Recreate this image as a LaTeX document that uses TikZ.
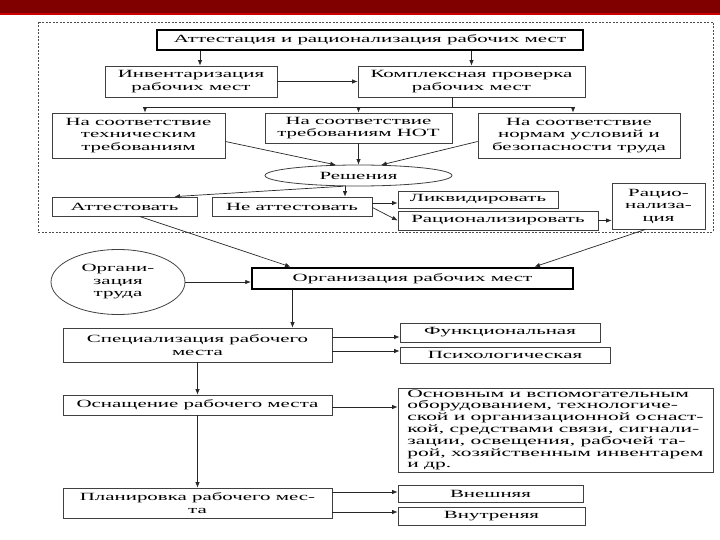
\documentclass[tikz,border=0pt]{standalone}
\usepackage{fontspec}
\setmainfont{Liberation Serif}[FakeStretch=1.9]
\usetikzlibrary{arrows.meta,shapes.geometric}

\begin{document}
\begin{tikzpicture}[x=1pt,y=-1pt]

    \tikzset{
      box/.style={
        draw=black!75,
        line width=0.8pt,
        fill=white,
        align=center,
        inner sep=0pt,
        font=\fontsize{11}{12.5}\selectfont,
      },
      mainbox/.style={box, draw=black, line width=2.4pt},
      oval/.style={box, ellipse},
      arr/.style={-{Latex[length=5.5pt,width=4.5pt]}, draw=black!85, line width=0.7pt},
      ln/.style={draw=black!85, line width=0.7pt},
    }
    \useasboundingbox (0,0) rectangle (720,540);
    \fill[red!50!black] (0,0) rectangle (720,13);
    \fill[red!80!black] (0,13) rectangle (720,15);
    \draw[black!70, line width=0.8pt, dash pattern=on 2pt off 1.5pt] (38,22) rectangle (713,232);

    % attestation block
    \node[mainbox, minimum width=426pt, minimum height=20pt] (title) at (370,40) {Аттестация и рационализация рабочих мест};
    \node[box, minimum width=172pt, minimum height=31pt] (inv) at (191,81.5) {Инвентаризация\\рабочих мест};
    \node[box, minimum width=227pt, minimum height=31pt] (komp) at (471.5,81.5) {Комплексная проверка\\рабочих мест};
    \node[box, minimum width=173pt, minimum height=45pt] (tech) at (138.5,135.5) {На соответствие\\техническим\\требованиям};
    \node[box, minimum width=187pt, minimum height=30pt] (not) at (358.5,128) {На соответствие\\требованиям НОТ};
    \node[box, minimum width=202pt, minimum height=45pt] (norm) at (579,135.5) {На соответствие\\нормам условий и\\безопасности труда};
    \node[oval, minimum width=187pt, minimum height=21pt] (resh) at (358.5,175.5) {Решения};
    \node[box, minimum width=145pt, minimum height=19pt] (att) at (124.5,206.5) {Аттестовать};
    \node[box, minimum width=160pt, minimum height=19pt] (neatt) at (292,206.5) {Не аттестовать};
    \node[box, minimum width=160pt, minimum height=17pt] (likv) at (478,199.5) {Ликвидировать};
    \node[box, minimum width=200pt, minimum height=19pt] (rac) at (498,220.5) {Рационализировать};
    \node[box, minimum width=93pt, minimum height=46pt] (racz) at (658.5,206) {Рацио-\\нализа-\\ция};

    \coordinate (busL) at (145,107);
    \coordinate (busR) at (573,107);
    \draw[arr] ([xshift=9pt]inv.north |- title.south) -- ([xshift=9pt]inv.north);
    \draw[arr] (komp.north |- title.south) -- (komp.north);
    \draw[arr] (inv.east) -- (komp.west);
    \draw[ln] ([xshift=-19.5pt]komp.south) -- ([xshift=-19.5pt]komp.south |- busL);
    \draw[ln] (busL) -- (busR);
    \draw[arr] (busL) -- (busL |- tech.north);
    \draw[arr] (busL -| not.north) -- (not.north);
    \draw[arr] (busR) -- (busR |- norm.north);
    \draw[arr] ([yshift=-6pt]tech.east) -- (resh.155);
    \draw[arr] (not.south) -- (resh.north);
    \draw[arr] ([yshift=-6pt]norm.west) -- (resh.25);
    \draw[arr] (resh.215) -- ([xshift=50pt]att.north);
    \draw[arr] ([xshift=53pt]neatt.north |- resh.south) -- ([xshift=53pt]neatt.north);
    \draw[arr] ([yshift=3.5pt]neatt.east) -- ([yshift=-3.5pt]likv.west);
    \draw[arr] ([yshift=-1pt]neatt.east) -- (rac.west);
    \draw[arr] (rac.east) -- (rac.east -| racz.west);

    % organisation block
    \node[mainbox, minimum width=321pt, minimum height=21pt] (org) at (412.5,278.5) {Организация рабочих мест};
    \node[oval, minimum width=134pt, minimum height=65pt] (trud) at (118,282) {Органи-\\зация\\труда};
    \node[box, minimum width=269pt, minimum height=34pt] (spec) at (197.5,345) {Специализация рабочего\\места};
    \node[box, minimum width=200pt, minimum height=19pt] (funk) at (500,332.5) {Функциональная};
    \node[box, minimum width=210pt, minimum height=16pt] (psych) at (505,355) {Психологическая};
    \node[box, minimum width=269pt, minimum height=20pt] (osn) at (197.5,405) {Оснащение рабочего места};
    \node[box, minimum width=315pt, minimum height=84pt, align=left, font=\fontsize{11.3}{11.8}\selectfont] (obor) at (555.5,430) {Основным и вспомогательным\\оборудованием, технологиче-\\ской и организационной оснаст-\\кой, средствами связи, сигнали-\\зации, освещения, рабочей та-\\рой, хозяйственным инвентарем\\и др.};
    \node[box, minimum width=269pt, minimum height=30pt] (plan) at (197.5,503) {Планировка рабочего мес-\\та};
    \node[box, minimum width=185pt, minimum height=17pt] (vnesh) at (490.5,493.5) {Внешняя};
    \node[box, minimum width=187pt, minimum height=18pt] (vnutr) at (491.5,516) {Внутреняя};

    \draw[arr] ([xshift=15pt]att.south) -- ([xshift=-122pt]org.north);
    \draw[arr] ([xshift=-13pt]racz.south) -- ([xshift=122pt]org.north);
    \draw[arr] (trud.east) -- (trud.east -| org.west);
    \draw[arr] ([xshift=95pt]spec.north |- org.south) -- ([xshift=95pt]spec.north);
    \draw[arr] ([yshift=8pt]spec.east) -- ([yshift=8pt]spec.east -| funk.west);
    \draw[arr] ([yshift=-6pt]spec.east) -- ([yshift=-6pt]spec.east -| psych.west);
    \draw[arr] (spec.south) -- (osn.north);
    \draw[arr] ([yshift=-2pt]osn.east) -- ([yshift=-2pt]osn.east -| obor.west);
    \draw[arr] (osn.south) -- (plan.north);
    \draw[arr] ([yshift=11pt]plan.east) -- ([yshift=11pt]plan.east -| vnesh.west);
    \draw[arr] ([yshift=-9pt]plan.east) -- ([yshift=-9pt]plan.east -| vnutr.west);

\end{tikzpicture}
\end{document}
